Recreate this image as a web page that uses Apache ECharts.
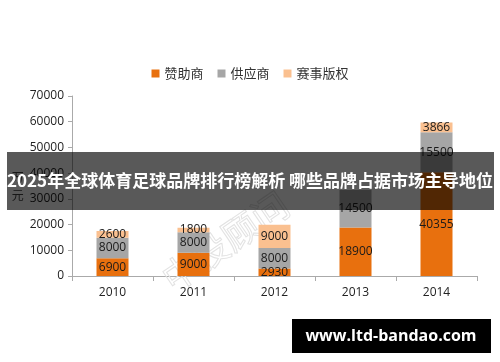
<!DOCTYPE html>
<html><head><meta charset="utf-8">
<script src="https://cdn.jsdelivr.net/npm/echarts@6/dist/echarts.min.js"></script>
<style>html,body{margin:0;padding:0;background:#fff}#c{width:500px;height:362px}</style>
</head><body><div id="c"></div>
<script>
const categories = ['2010','2011','2012','2013','2014'];
const seriesNames = ['赞助商','供应商','赛事版权'];
const sponsor = [6900, 9000, 2930, 18900, 40355];
const supplier = [8000, 8000, 8000, 14500, 15500];
const rights = [2600, 1800, 9000, 0, 3866];
const yTicks = [0,10000,20000,30000,40000,50000,60000,70000];
const titleText = '2025年全球体育足球品牌排行榜解析 哪些品牌占据市场主导地位';
const siteText = 'www.ltd-bandao.com';

const colors = ['#E8700E','#A6A6A6','#FAC090'];
const font = '"Noto Sans CJK SC", "Noto Sans", sans-serif';
const chart = echarts.init(document.getElementById('c'));
const mk = (name, data, i) => ({
  name, type:'bar', stack:'t', data: data.map(v => v === 0 ? null : v), barWidth:32,
  itemStyle:{color:colors[i]},
  label:{show:true, position:'inside', color:'#1a1a1a', fontSize:12, fontFamily:'"Open Sans", sans-serif'}
});
chart.setOption({
  animation:false,
  textStyle:{fontFamily:font},
  legend:{top:62, left:'center', itemWidth:8, itemHeight:8, itemGap:14, icon:'rect',
    textStyle:{fontSize:13, color:'#333', fontFamily:font}, data:seriesNames},
  grid:{left:72, right:23, top:96, bottom:86, containLabel:false},
  xAxis:{type:'category', data:categories,
    axisLine:{lineStyle:{color:'#aaa'}}, axisTick:{show:true, length:5, lineStyle:{color:'#aaa'}},
    axisLabel:{color:'#222', fontSize:12, margin:11, fontFamily:'"Open Sans", sans-serif'}},
  yAxis:{type:'value', min:yTicks[0], max:yTicks[yTicks.length-1], interval:10000,
    name:'万\n元', nameLocation:'middle', nameRotate:0, nameGap:48,
    nameTextStyle:{color:'#444', fontSize:12, lineHeight:18},
    axisLine:{show:true, lineStyle:{color:'#aaa'}}, axisTick:{show:true, length:4, lineStyle:{color:'#aaa'}},
    splitLine:{show:false},
    axisLabel:{color:'#222', fontSize:12, margin:8, fontFamily:'"Open Sans", sans-serif', formatter:v => String(v)}},
  series:[mk(seriesNames[0], sponsor, 0), mk(seriesNames[1], supplier, 1), mk(seriesNames[2], rights, 2)],
  graphic:[
    {type:'text', left:155, top:185, rotation:0.6, z:1, silent:true,
      style:{text:'中投顾问', fontSize:36, fill:'rgba(0,0,0,0)', stroke:'#e2e2e2', lineWidth:1, fontFamily:font}},
    {type:'rect', shape:{x:7, y:152, width:487, height:58}, style:{fill:'rgba(0,0,0,0.65)'}, z:100},
    {type:'text', z:101, style:{text:titleText, x:250, y:181, align:'center', verticalAlign:'middle',
      fill:'#fff', fontSize:17, fontWeight:'bold', fontFamily:font}},
    {type:'rect', shape:{x:292, y:319, width:199, height:34}, style:{fill:'#000'}, z:100},
    {type:'text', z:101, style:{text:siteText, x:391, y:336, align:'center', verticalAlign:'middle',
      fill:'#fff', fontSize:16, fontWeight:'bold', fontFamily:'"Open Sans", sans-serif'}}
  ]
});
</script></body></html>
